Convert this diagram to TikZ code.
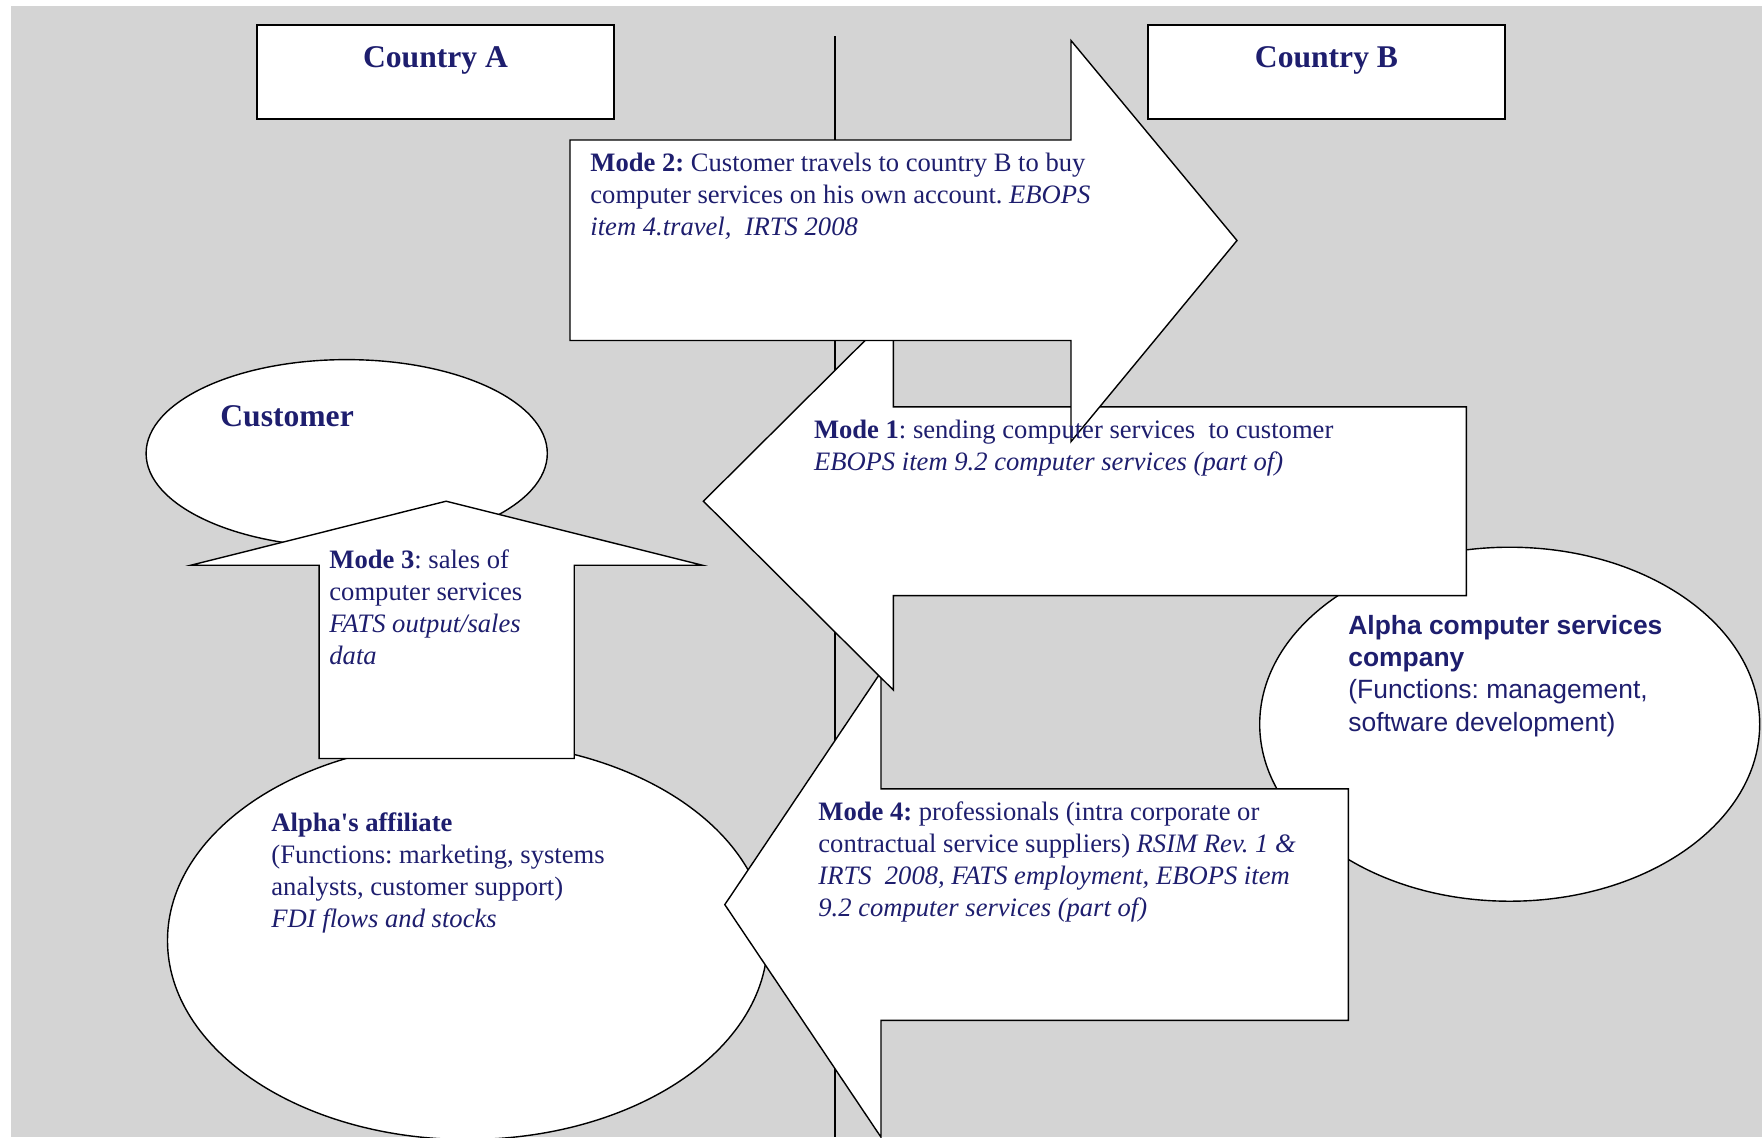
\documentclass[tikz,border=0pt]{standalone}
\usepackage{fontspec}
\setmainfont{Liberation Serif}[Ligatures=TeXOff]
\newfontfamily\arialfont{Liberation Sans}[Ligatures=TeXOff]
\definecolor{navy}{RGB}{30,30,110}
\definecolor{bggray}{RGB}{212,212,212}
\frenchspacing
\begin{document}
\begin{tikzpicture}[x=0.5pt,y=-0.5pt,
  shp/.style={draw=black,fill=white,line width=0.7pt,line join=miter},
  txt/.style={inner sep=0pt,anchor=north west,align=left,text=navy,font=\fontsize{13.3}{16}\selectfont},
  ttl/.style={inner sep=0pt,text=navy,font=\fontsize{15.8}{19}\selectfont\bfseries}]
\useasboundingbox (0,0) rectangle (1762,1137);
\fill[bggray] (11,6) rectangle (1762,1137);
% border line between countries
\coordinate (vtop) at (835,36);
\coordinate (vbot) at (835,1137);
\draw[line width=0.7pt] (vtop) -- (vbot);
% country boxes
\draw[shp] (257,25) rectangle (614,119);
\draw[shp] (1148,25) rectangle (1505,119);
% ellipses
\draw[shp] (346.7,453.4) ellipse [x radius=100.3pt, y radius=46.9pt];
\draw[shp] (467.5,940.5) ellipse [x radius=150pt, y radius=99.5pt];
\draw[shp] (1509.7,724.2) ellipse [x radius=125pt, y radius=88.5pt];
% Mode 3 arrow (up)
\draw[shp] (446.1,501.2) -- (702.3,565.2) -- (574.2,565.2) -- (574.2,758.5)
  -- (319.1,758.5) -- (319.1,565.2) -- (191,565.2) -- cycle;
% Mode 4 arrow (left)
\draw[shp] (1348.4,788.8) -- (881,788.8) -- (881,672) -- (724.8,904.6)
  -- (881,1137.2) -- (881,1020.3) -- (1348.4,1020.3) -- cycle;
% Mode 1 arrow (left)
\draw[shp] (1466.4,406.8) -- (893.3,406.8) -- (893.3,312.4) -- (703.4,501.2)
  -- (893.3,690) -- (893.3,595.6) -- (1466.4,595.6) -- cycle;
% Mode 2 arrow (right)
\draw[shp] (570,140) -- (1071,140) -- (1071,40.5) -- (1237,240.5)
  -- (1071,441.6) -- (1071,340.5) -- (570,340.5) -- cycle;
% texts
\node[ttl,anchor=north] (ca) at (435.5,46) {Country A};
\node[ttl,anchor=north] (cb) at (1326.5,46) {Country B};
\node[ttl,anchor=north west] (cust) at (220,405) {Customer};
\node[txt] (m2) at (590,153) {\textbf{Mode 2:} Customer travels to country B to buy\\
  computer services on his own account. \textit{EBOPS}\\
  \textit{item 4.travel,\ \ IRTS 2008}};
\node[txt] (m1) at (813.6,420) {\textbf{Mode 1}: sending computer services\ \ to customer\\
  \textit{EBOPS item 9.2 computer services (part of)}};
\node[txt] (m3) at (329,549) {\textbf{Mode 3}: sales of\\
  computer services\\
  \textit{FATS output/sales}\\
  \textit{data}};
\node[txt] (m4) at (818,801) {\textbf{Mode 4:} professionals (intra corporate or\\
  contractual service suppliers) \textit{RSIM Rev. 1 \&}\\
  \textit{IRTS\ \ 2008, FATS employment, EBOPS item}\\
  \textit{9.2 computer services (part of)}};
\node[txt] (aff) at (271,812) {\textbf{Alpha's affiliate}\\
  (Functions: marketing, systems\\
  analysts, customer support)\\
  \textit{FDI flows and stocks}};
\node[txt,font=\arialfont\fontsize{13.2}{16.1}\selectfont] (alpha) at (1348,615) {\textbf{Alpha computer services}\\
  \textbf{company}\\
  (Functions: management,\\
  software development)};
\end{tikzpicture}
\end{document}
